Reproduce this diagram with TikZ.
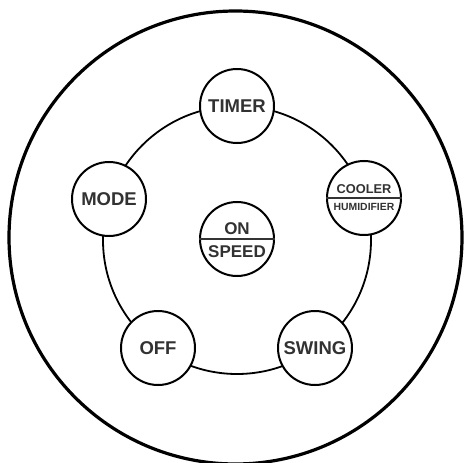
\documentclass[tikz,border=0pt]{standalone}
\usepackage{fontspec}
\setmainfont{Liberation Sans}
\definecolor{txtgray}{RGB}{50,50,50}
\begin{document}
\begin{tikzpicture}[x=1pt,y=-1pt,
  btn/.style={circle,draw=black,fill=white,line width=2pt,minimum size=74pt,inner sep=0pt},
  big/.style={font=\bfseries\fontsize{18.5}{18.5}\selectfont,text=txtgray},
  mid/.style={font=\bfseries\fontsize{17}{17}\selectfont,text=txtgray,inner sep=0pt},
  small/.style={font=\bfseries\fontsize{12.8}{12.8}\selectfont,text=txtgray,inner sep=0pt},
  tiny/.style={font=\bfseries\fontsize{10.4}{10.4}\selectfont,text=txtgray,inner sep=0pt},
  divider/.style={draw=black!80,line width=1.6pt}
]
\useasboundingbox (0,0) rectangle (464,463);
% outer housing
\node[circle,draw=black,line width=3.2pt,minimum size=453pt,inner sep=0pt] (housing) at (235.5,237.5) {};
% ring joining the buttons
\node[circle,draw=black,line width=1.8pt,minimum size=268pt,inner sep=0pt] (ring) at (237,240) {};
% buttons
\node[btn,big] (timer) at (237,106) {TIMER};
\node[btn,big] (mode) at (109,199) {MODE};
\node[btn] (cooler) at (364,198) {};
\node[btn,big] (off) at (158,348) {OFF};
\node[btn,big] (swing) at (315,348) {SWING};
\node[btn] (onspeed) at (237,239) {};
% split labels
\draw[divider] (onspeed.west) -- (onspeed.east);
\node[mid] (on) at (237,229) {ON};
\node[mid] (speed) at (237,252) {SPEED};
\draw[divider] (cooler.west) -- (cooler.east);
\node[small] (coolertxt) at (364,189.3) {COOLER};
\node[tiny] (humid) at (364,207) {HUMIDIFIER};
\end{tikzpicture}
\end{document}
